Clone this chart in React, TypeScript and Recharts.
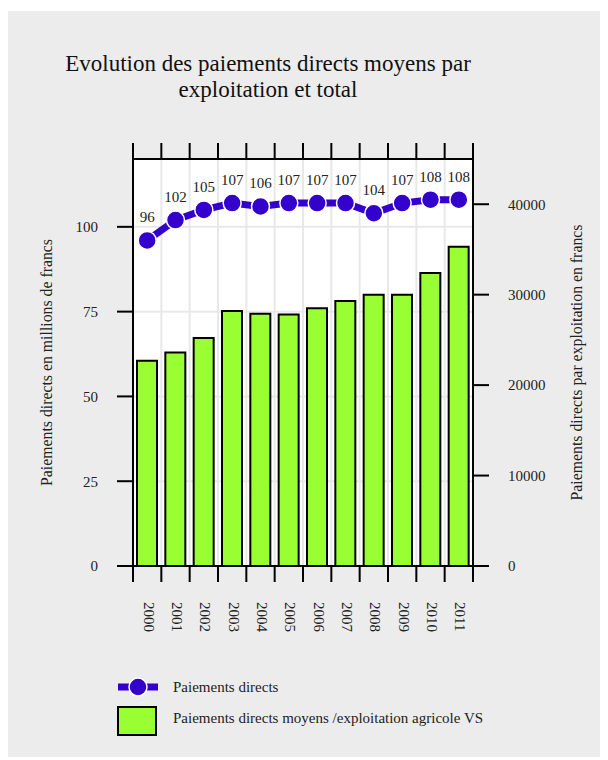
import React from 'react';
import { ComposedChart, Bar, Line, XAxis, YAxis, CartesianGrid, Legend, LabelList } from 'recharts';

// années
const years = ['2000', '2001', '2002', '2003', '2004', '2005', '2006', '2007', '2008', '2009', '2010', '2011'];
// paiements directs en millions de francs (axe gauche)
const paiementsDirects = [96, 102, 105, 107, 106, 107, 107, 107, 104, 107, 108, 108];
// paiements directs moyens par exploitation en francs (axe droit)
const paiementsParExploitation = [22700, 23600, 25200, 28200, 27900, 27800, 28500, 29300, 30000, 30000, 32400, 35300];

const leftTicks = [0, 25, 50, 75, 100];
const rightTicks = [0, 10000, 20000, 30000, 40000];

const BLUE = '#3300cc';
const GREEN = '#99ff33';
const FONT = '"Liberation Serif", "Times New Roman", serif';
const TEXT = '#222';
const TICK_LEN = 16;

const data = years.map((year, i) => ({
  year,
  total: paiementsDirects[i],
  moyenne: paiementsParExploitation[i],
}));

const axisStroke = { stroke: '#000', strokeWidth: 2 };
const tickStyle = { fontSize: 15, fontFamily: FONT, fill: TEXT };

// traits de graduation entre les catégories (bords des bandes)
const edgeLines = (x: number, y: number, payload: any, index: number, count: number, dir: number) => {
  const half = payload.offset || 0;
  const xs = [x - half];
  if (index === count - 1) xs.push(x + half);
  return xs.map((px, k) => (
    <line key={k} x1={px} x2={px} y1={y} y2={y + dir * TICK_LEN} stroke="#000" strokeWidth={2} />
  ));
};

const YearTick = ({ x, y, payload, index, visibleTicksCount }: any) => (
  <g>
    {edgeLines(x, y, payload, index, visibleTicksCount, 1)}
    <text
      transform={`translate(${x + 1.5},${y + 36}) rotate(90)`}
      textAnchor="start"
      dominantBaseline="central"
      fontSize={15}
      fontFamily={FONT}
      fill={TEXT}
    >
      {payload.value}
    </text>
  </g>
);

const TopTick = ({ x, y, payload, index, visibleTicksCount }: any) => (
  <g>{edgeLines(x, y, payload, index, visibleTicksCount, -1)}</g>
);

const axisTitle = (value: string, x: number) => ({ viewBox }: any) => {
  const cy = viewBox.y + viewBox.height / 2;
  return (
    <text
      x={x}
      y={cy}
      transform={`rotate(-90, ${x}, ${cy})`}
      textAnchor="middle"
      dominantBaseline="central"
      fontSize={15.8}
      fontFamily={FONT}
      fill={TEXT}
    >
      {value}
    </text>
  );
};

const LegendBox = () => (
  <div style={{ position: 'relative', width: 600, height: 88, fontFamily: FONT, fontSize: 15, color: TEXT }}>
    <svg width={40} height={22} style={{ position: 'absolute', left: 110, top: 4 }}>
      <line x1={0} y1={11} x2={40} y2={11} stroke={BLUE} strokeWidth={7} />
      <circle cx={20} cy={11} r={9} fill={BLUE} stroke="#fff" strokeWidth={1.5} />
    </svg>
    <div style={{ position: 'absolute', left: 165, top: 5, lineHeight: '20px' }}>Paiements directs</div>
    <svg width={42} height={32} style={{ position: 'absolute', left: 109, top: 34 }}>
      <rect x={1} y={1} width={38} height={28} fill={GREEN} stroke="#000" strokeWidth={2} />
    </svg>
    <div style={{ position: 'absolute', left: 165, top: 36, lineHeight: '20px' }}>
      Paiements directs moyens /exploitation agricole VS
    </div>
  </div>
);

export default function App() {
  return (
    <div style={{ position: 'relative', top: 3, width: 600, height: 749, background: '#ececec' }}>
      <div
        style={{
          position: 'absolute',
          left: 0,
          top: 40,
          width: 520,
          textAlign: 'center',
          fontFamily: FONT,
          fontSize: 23,
          lineHeight: '25.6px',
          color: '#111',
          zIndex: 1,
        }}
      >
        Evolution des paiements directs moyens par
        <br />
        exploitation et total
      </div>
      <ComposedChart
        width={600}
        height={749}
        data={data}
        margin={{ top: 132, right: 0, bottom: 0, left: 0 }}
      >
        <CartesianGrid
          yAxisId="left"
          fill="#fff"
          stroke="#e8e8e8"
          strokeWidth={2}
          verticalCoordinatesGenerator={({ offset }: any) =>
            years.map((_, i) => offset.left + (i * offset.width) / years.length)
          }
        />
        <XAxis
          xAxisId="top"
          orientation="top"
          dataKey="year"
          height={16}
          tickSize={0}
          tickMargin={0}
          tickLine={false}
          axisLine={axisStroke}
          tick={<TopTick />}
          interval={0}
        />
        <XAxis
          dataKey="year"
          height={106}
          tickSize={0}
          tickMargin={0}
          tickLine={false}
          axisLine={axisStroke}
          tick={<YearTick />}
          interval={0}
        />
        <YAxis
          yAxisId="left"
          width={125}
          domain={[0, 120]}
          ticks={leftTicks}
          tickSize={16}
          tickMargin={19}
          tick={tickStyle}
          axisLine={axisStroke}
          tickLine={axisStroke}
          label={{ content: axisTitle('Paiements directs en millions de francs', 38.7) }}
        />
        <YAxis
          yAxisId="right"
          orientation="right"
          width={135}
          domain={[0, 45000]}
          ticks={rightTicks}
          tickSize={16}
          tickMargin={19}
          tick={{ ...tickStyle, textAnchor: 'start' }}
          axisLine={axisStroke}
          tickLine={axisStroke}
          label={{ content: axisTitle('Paiements directs par exploitation en francs', 568.7) }}
        />
        <Legend verticalAlign="bottom" align="left" height={88} content={<LegendBox />} wrapperStyle={{ left: 0, bottom: 0 }} />
        <Bar
          yAxisId="right"
          dataKey="moyenne"
          name="Paiements directs moyens /exploitation agricole VS"
          fill={GREEN}
          stroke="#000"
          strokeWidth={2}
          barSize={20}
          isAnimationActive={false}
        />
        <Line
          yAxisId="left"
          dataKey="total"
          name="Paiements directs"
          stroke={BLUE}
          strokeWidth={7}
          dot={{ r: 9, fill: BLUE, stroke: '#fff', strokeWidth: 1.5 }}
          activeDot={false}
          isAnimationActive={false}
        >
          <LabelList dataKey="total" position="top" offset={18} style={{ fontSize: 15, fontFamily: FONT, fill: TEXT }} />
        </Line>
      </ComposedChart>
    </div>
  );
}
